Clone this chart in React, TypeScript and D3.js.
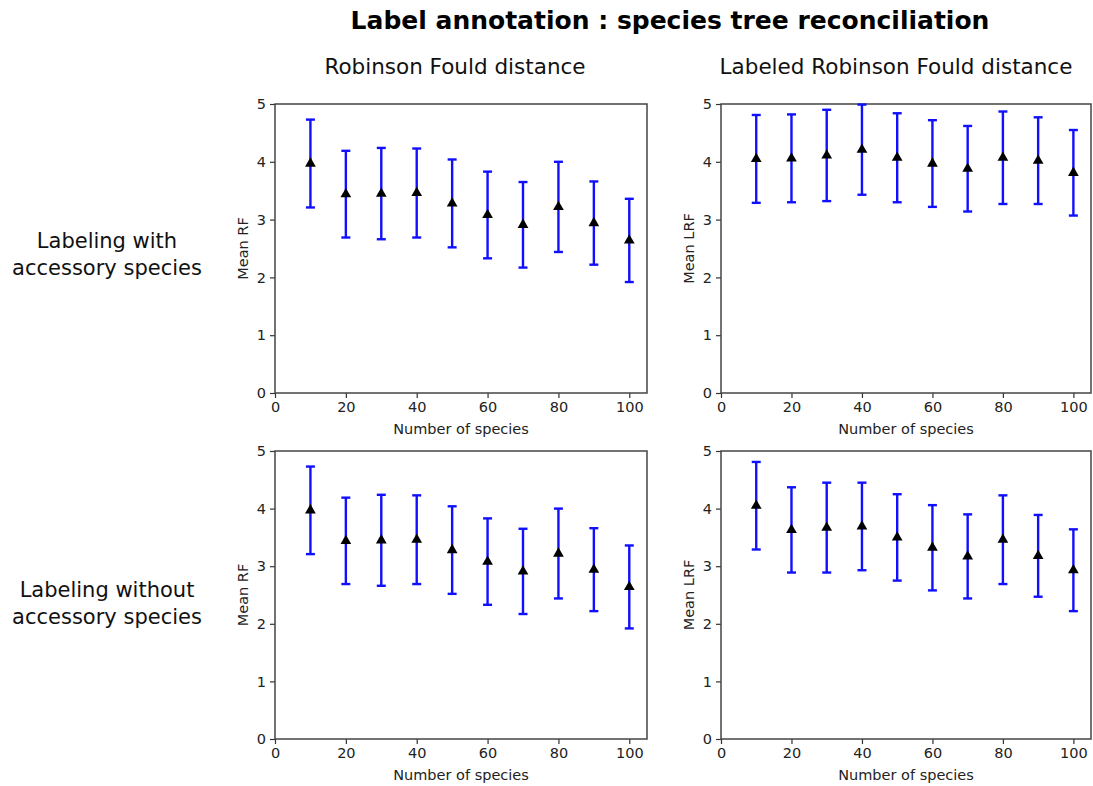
import { useRef, useEffect } from "react";
import * as d3 from "d3";

const speciesCounts = [10, 20, 30, 40, 50, 60, 70, 80, 90, 100];

// mean RF (same in both labelling settings)
const rfMean = [3.97, 3.44, 3.45, 3.46, 3.28, 3.08, 2.91, 3.22, 2.94, 2.64];
const rfErr = [0.76, 0.75, 0.79, 0.77, 0.76, 0.75, 0.74, 0.78, 0.72, 0.72];

const lrfWithMean = [4.05, 4.06, 4.11, 4.21, 4.07, 3.97, 3.88, 4.07, 4.02, 3.81];
const lrfWithErr = [0.76, 0.76, 0.79, 0.78, 0.77, 0.75, 0.74, 0.8, 0.75, 0.74];

const lrfWithoutMean = [4.05, 3.63, 3.67, 3.69, 3.5, 3.32, 3.17, 3.46, 3.18, 2.93];
const lrfWithoutErr = [0.76, 0.74, 0.78, 0.76, 0.75, 0.74, 0.73, 0.77, 0.71, 0.71];

const xTicks = [0, 20, 40, 60, 80, 100];
const yTicks = [0, 1, 2, 3, 4, 5];

const colTitles = ["Robinson Fould distance", "Labeled Robinson Fould distance"];
const rowTitles = [
  ["Labeling with", "accessory species"],
  ["Labeling without", "accessory species"],
];

const FONT = "DejaVu Sans";

export default function App() {
  const ref = useRef(null);

  useEffect(() => {
    const width = 1093;
    const height = 786;
    const svg = d3.select(ref.current);
    svg.selectAll("*").remove();
    svg.attr("width", width).attr("height", height);

    svg
      .append("text")
      .attr("x", 670)
      .attr("y", 29)
      .attr("text-anchor", "middle")
      .attr("font-family", FONT)
      .attr("font-weight", "bold")
      .attr("font-size", 25)
      .text("Label annotation : species tree reconciliation");

    const cols = [
      { x0: 275, x1: 647, titleX: 455 },
      { x0: 721, x1: 1091, titleX: 896 },
    ];
    const rows = [
      { y0: 104, y1: 393, labelY: 248 },
      { y0: 451, y1: 739, labelY: 597 },
    ];

    colTitles.forEach((t, i) => {
      svg
        .append("text")
        .attr("x", cols[i].titleX)
        .attr("y", 74)
        .attr("text-anchor", "middle")
        .attr("font-family", FONT)
        .attr("font-size", 21.5)
        .attr("fill", "#111")
        .text(t);
    });

    rowTitles.forEach((lines, i) => {
      lines.forEach((line, j) => {
        svg
          .append("text")
          .attr("x", 107)
          .attr("y", rows[i].labelY + j * 27)
          .attr("text-anchor", "middle")
          .attr("font-family", FONT)
          .attr("font-size", 21)
          .attr("fill", "#111")
          .text(line);
      });
    });

    const panels = [
      { row: 0, col: 0, mean: rfMean, err: rfErr, ylabel: "Mean RF" },
      { row: 0, col: 1, mean: lrfWithMean, err: lrfWithErr, ylabel: "Mean LRF" },
      { row: 1, col: 0, mean: rfMean, err: rfErr, ylabel: "Mean RF" },
      { row: 1, col: 1, mean: lrfWithoutMean, err: lrfWithoutErr, ylabel: "Mean LRF" },
    ];

    const tri = d3.symbol().type(d3.symbolTriangle).size(50);

    panels.forEach((p) => {
      const c = cols[p.col];
      const r = rows[p.row];
      const x = d3.scaleLinear().domain([0, 105]).range([c.x0, c.x1]);
      const y = d3.scaleLinear().domain([0, 5]).range([r.y1, r.y0]);
      const g = svg.append("g");

      const xAxis = g
        .append("g")
        .attr("transform", `translate(0,${r.y1})`)
        .call(d3.axisBottom(x).tickValues(xTicks).tickSize(5).tickPadding(4));
      const yAxis = g
        .append("g")
        .attr("transform", `translate(${c.x0},0)`)
        .call(
          d3
            .axisLeft(y)
            .tickValues(yTicks)
            .tickFormat(d3.format("d"))
            .tickSize(5)
            .tickPadding(4)
        );

      [xAxis, yAxis].forEach((a) => {
        a.select(".domain").remove();
        a.selectAll("line").attr("stroke", "#333").attr("stroke-width", 1.2);
        a.selectAll("text")
          .attr("font-family", FONT)
          .attr("font-size", 14.5)
          .attr("fill", "#222");
      });

      g.append("rect")
        .attr("x", c.x0)
        .attr("y", r.y0)
        .attr("width", c.x1 - c.x0)
        .attr("height", r.y1 - r.y0)
        .attr("fill", "none")
        .attr("stroke", "#444")
        .attr("stroke-width", 1.5);

      g.append("text")
        .attr("x", (c.x0 + c.x1) / 2)
        .attr("y", r.y1 + 41)
        .attr("text-anchor", "middle")
        .attr("font-family", FONT)
        .attr("font-size", 14.5)
        .attr("fill", "#222")
        .text("Number of species");

      g.append("text")
        .attr(
          "transform",
          `translate(${c.x0 - 27},${(r.y0 + r.y1) / 2}) rotate(-90)`
        )
        .attr("text-anchor", "middle")
        .attr("font-family", FONT)
        .attr("font-size", 14.5)
        .attr("fill", "#222")
        .text(p.ylabel);

      const data = speciesCounts.map((n, i) => ({
        n,
        mean: p.mean[i],
        err: p.err[i],
      }));

      const bars = g.append("g").attr("stroke", "#1010ff").attr("stroke-width", 2.4);
      data.forEach((d) => {
        const cx = x(d.n);
        const top = y(d.mean + d.err);
        const bot = y(d.mean - d.err);
        bars.append("line").attr("x1", cx).attr("x2", cx).attr("y1", top).attr("y2", bot);
        bars.append("line").attr("x1", cx - 4.5).attr("x2", cx + 4.5).attr("y1", top).attr("y2", top);
        bars.append("line").attr("x1", cx - 4.5).attr("x2", cx + 4.5).attr("y1", bot).attr("y2", bot);
      });

      g.selectAll("path.marker")
        .data(data)
        .join("path")
        .attr("class", "marker")
        .attr("d", tri)
        .attr("transform", (d) => `translate(${x(d.n)},${y(d.mean)})`)
        .attr("fill", "#000");
    });
  }, []);

  return (
    <div style={{ position: "absolute", left: 0, top: 0, background: "#fff" }}>
      <svg ref={ref} width={1093} height={786}></svg>
    </div>
  );
}
